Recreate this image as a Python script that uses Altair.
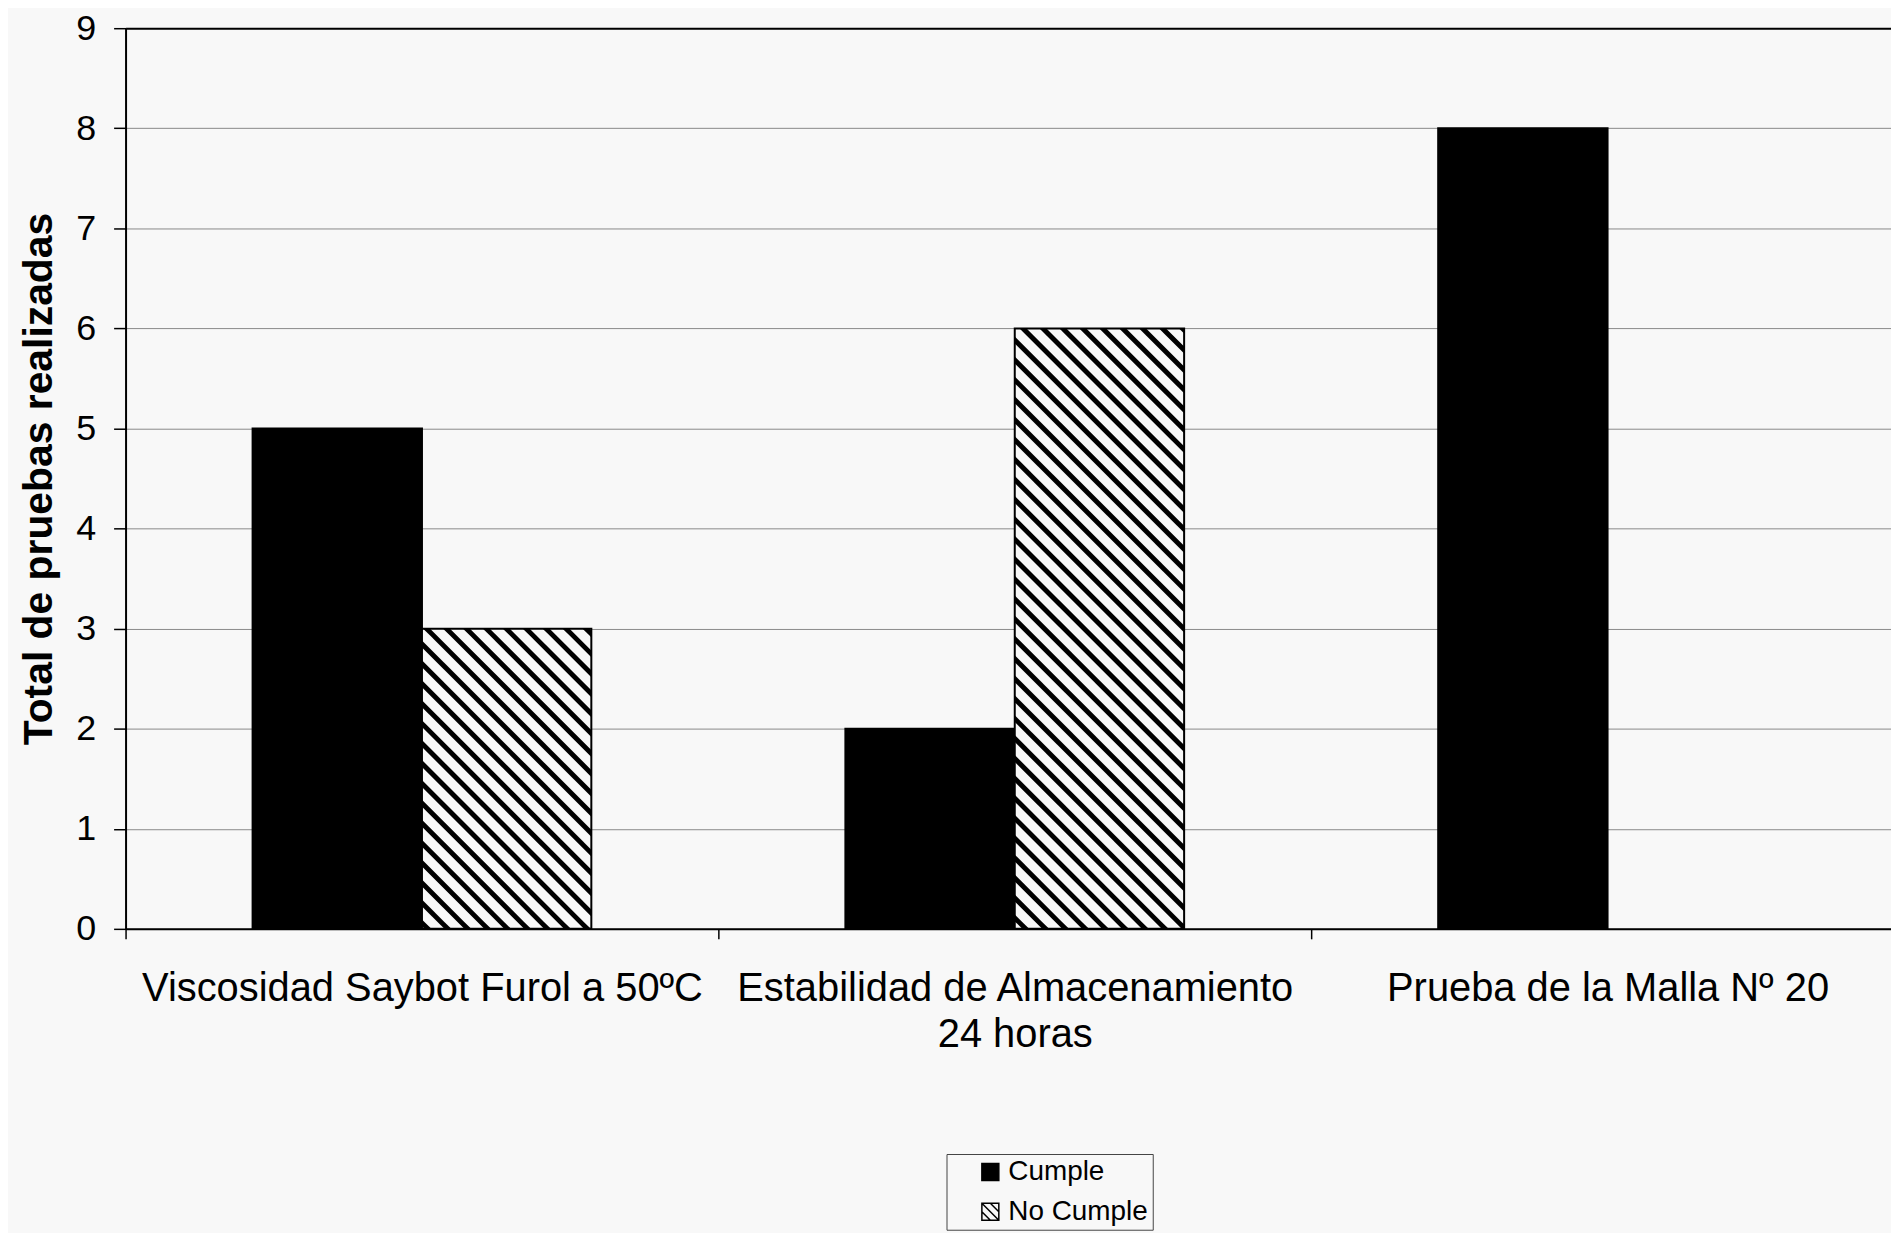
import json
import math
import altair as alt
import pandas as pd

# ---------------- data ----------------
categories = [
    "Viscosidad Saybot Furol a 50ºC",
    "Estabilidad de Almacenamiento 24 horas",
    "Prueba de la Malla Nº 20",
]
category_label_lines = [
    ["Viscosidad Saybot Furol a 50ºC"],
    ["Estabilidad de Almacenamiento", "24 horas"],
    ["Prueba de la Malla Nº 20"],
]
series = ["Cumple", "No Cumple"]
cumple = [5, 2, 8]
no_cumple = [3, 6, 0]
y_ticks = [0, 1, 2, 3, 4, 5, 6, 7, 8, 9]

# ---------------- layout / style ----------------
BG = "#f8f8f8"
FONT = "Liberation Sans"
PLOT_W = 1772
PLOT_H = 904
BAND_PX = 595.0                 # pixel width of one category band
X_MAX = PLOT_W / BAND_PX        # visible part of the category axis
Y_MAX = 9
SX = BAND_PX
SY = PLOT_H / Y_MAX
BAR_W = 1 / 3.5                 # Excel gap width 150 %
GAP_HALF = (1 - 2 * BAR_W) / 2
HATCH_PERIOD = 20.0
HATCH_BLACK = 7.0

# bar table
rows = []
for i, cat in enumerate(categories):
    for s, (name, vals) in enumerate(zip(series, [cumple, no_cumple])):
        v = vals[i]
        if v <= 0:
            continue
        x0 = i + GAP_HALF + s * BAR_W
        rows.append({"cat": cat, "series": name, "value": v, "x0": x0, "x1": x0 + BAR_W, "base": 0})
bars_df = pd.DataFrame(rows)

# hatch stripes ("\" direction, 45 deg in pixel space) clipped to the "No Cumple" bars
hatch_rows = []
sid = 0
for r in rows:
    if r["series"] != "No Cumple":
        continue
    L, R, V = r["x0"] * SX, r["x1"] * SX, r["value"] * SY
    k0 = math.floor((L - HATCH_BLACK) / HATCH_PERIOD) - 1
    k1 = math.ceil((R + V) / HATCH_PERIOD) + 1
    for k in range(k0, k1 + 1):
        c1 = k * HATCH_PERIOD
        c2 = c1 + HATCH_BLACK
        xa = max(L, c1 - V)
        xb = min(R, c2)
        if xb - xa <= 1e-6:
            continue
        xs = sorted({xa, xb, *[t for t in (c1 - V, c1, c2 - V, c2) if xa < t < xb]})
        for X in xs:
            lo = max(0.0, c1 - X)
            hi = min(V, c2 - X)
            hatch_rows.append({"stripe": sid, "hx": X / SX, "lo": lo / SY, "hi": hi / SY})
        sid += 1
hatch_df = pd.DataFrame(hatch_rows)

legend_df = pd.DataFrame({"series": series})

x_scale = alt.Scale(domain=[0, X_MAX], nice=False, zero=False)
y_scale = alt.Scale(domain=[0, Y_MAX], nice=False)

label_expr = ("datum.value % 1 === 0 ? '' : "
              + json.dumps(category_label_lines, ensure_ascii=False)
              + "[floor(datum.value)]")

x_axis = alt.Axis(
    values=[i * 0.5 for i in range(2 * len(categories))],
    labelExpr=label_expr,
    title=None,
    grid=False,
    tickOpacity={"condition": {"test": "datum.value % 1 !== 0", "value": 0}, "value": 1},
    tickSize=10,
    tickWidth=1.5,
    tickColor="#000000",
    domainColor="#000000",
    domainWidth=2,
    labelPadding=30,
    labelFont=FONT,
    labelFontSize=40,
    labelColor="#000000",
    labelLineHeight=46,
    labelOverlap=False,
    labelFlush=False,
    labelBound=False,
    labelLimit=0,
)

y_axis = alt.Axis(
    values=y_ticks,
    format="d",
    title="Total de pruebas realizadas",
    titleFont=FONT,
    titleFontSize=41,
    titleFontWeight="bold",
    titleColor="#000000",
    titlePadding=15,
    labelFont=FONT,
    labelFontSize=36,
    labelColor="#000000",
    labelPadding=18,
    tickSize=12,
    tickWidth=1.5,
    tickColor="#000000",
    domainColor="#000000",
    domainWidth=2,
    grid=True,
    gridColor={"condition": {"test": "datum.value === 9", "value": "#000000"}, "value": "#8a8a8a"},
    gridWidth={"condition": {"test": "datum.value === 9", "value": 2}, "value": 1},
)

bars = alt.Chart(bars_df).mark_rect(stroke="#000000", strokeWidth=2).encode(
    x=alt.X("x0:Q", scale=x_scale, axis=x_axis),
    x2="x1:Q",
    y=alt.Y("value:Q", scale=y_scale, axis=y_axis),
    y2="base:Q",
    fill=alt.condition("datum.series === 'Cumple'", alt.value("#000000"), alt.value(BG)),
)

hatch = alt.Chart(hatch_df).mark_area(color="#000000", opacity=1).encode(
    x=alt.X("hx:Q", scale=x_scale),
    y=alt.Y("lo:Q", scale=y_scale, stack=None),
    y2="hi:Q",
    detail="stripe:N",
)

SQ_PATH = "M-1,-1H1V1H-1Z"
HATCH_PATH = "M-1,-1H1V1H-1Z M-1,-1L1,1 M-1,0L0,1 M0,-1L1,0"

legend_cfg = dict(
    title=None,
    orient="none",
    legendX=824,
    legendY=1130,
    labelFont=FONT,
    labelFontSize=28,
    labelColor="#000000",
    labelOffset=4,
    symbolSize=289,
    symbolStrokeWidth=1.5,
    symbolOffset=26,
    rowPadding=12,
    padding=4,
    strokeColor="#444444",
    fillColor=BG,
)

legend_layer = alt.Chart(legend_df).mark_point(
    filled=True, opacity=1, size=289, strokeWidth=1.5, clip=True
).encode(
    y=alt.Y(datum=-1, scale=y_scale),
    fill=alt.Fill("series:N", scale=alt.Scale(domain=series, range=["#000000", BG]),
                  legend=alt.Legend(**legend_cfg)),
    stroke=alt.Stroke("series:N", scale=alt.Scale(domain=series, range=["#000000", "#000000"]),
                      legend=alt.Legend(**legend_cfg)),
    shape=alt.Shape("series:N", scale=alt.Scale(domain=series, range=[SQ_PATH, HATCH_PATH]),
                    legend=alt.Legend(**legend_cfg)),
)

chart = alt.layer(bars, hatch, legend_layer).properties(
    width=PLOT_W,
    height=PLOT_H,
    padding={"left": 10, "top": 0, "right": 0, "bottom": 0},
    background=BG,
).configure_view(strokeWidth=0).configure(font=FONT)

chart.save("out.html", embed_options={"renderer": "svg", "actions": False})
